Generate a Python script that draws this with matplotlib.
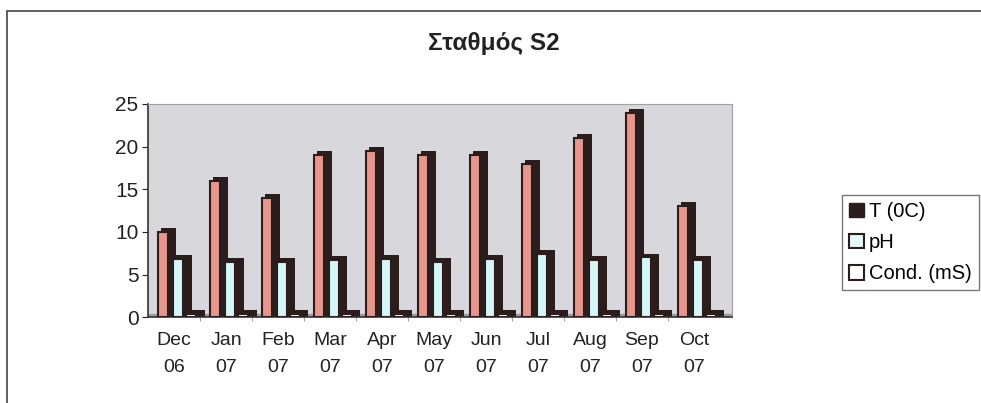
import matplotlib.pyplot as plt
from matplotlib.patches import Rectangle, Patch
import numpy as np

plt.rcParams['font.family'] = ['Liberation Sans', 'DejaVu Sans']

months = ['Dec\n06', 'Jan\n07', 'Feb\n07', 'Mar\n07', 'Apr\n07', 'May\n07',
          'Jun\n07', 'Jul\n07', 'Aug\n07', 'Sep\n07', 'Oct\n07']
temp = [10, 16, 14, 19, 19.5, 19, 19, 18, 21, 24, 13]
ph = [6.8, 6.5, 6.5, 6.7, 6.8, 6.5, 6.8, 7.4, 6.7, 7.0, 6.7]
cond = [0.4, 0.4, 0.4, 0.4, 0.4, 0.4, 0.4, 0.4, 0.4, 0.4, 0.4]

series = [('T (0C)', temp, '#e6968c'),
          ('pH', ph, '#d4f6f6'),
          ('Cond. (mS)', cond, '#ffffff')]

dark = '#2b1d1c'
fig = plt.figure(figsize=(9.81, 4.03), dpi=100)
ax = fig.add_axes([0.151, 0.213, 0.595, 0.529])
ax.set_facecolor('#d8d8dc')

x = np.arange(len(months))
w = 0.19
depth_x = 0.11
depth_y = 0.45
offsets = [-0.31, -0.02, 0.23]

# floor
ax.axhspan(0, 0.35, color='#9c9ca2', zorder=1)

for (name, vals, col), off in zip(series, offsets):
    left = x + off
    # dark side/top of the 3D block
    ax.bar(left + depth_x / 2, np.array(vals) + depth_y, width=w + depth_x,
           align='edge', color=dark, zorder=2)
    ax.bar(left, vals, width=w, align='edge', color=col,
           edgecolor=dark, linewidth=1.5, zorder=3)

ax.set_xlim(-0.5, 10.73)
ax.set_ylim(0, 25)
ax.set_yticks([0, 5, 10, 15, 20, 25])
ax.set_xticks(x)
ax.set_xticklabels(months, linespacing=1.75)
ax.set_xticks(np.arange(0.5, 10.5, 1), minor=True)
ax.tick_params(axis='x', which='major', length=0, pad=11, labelsize=14, colors='#222222')
ax.tick_params(axis='x', which='minor', length=3, color='#888888')
ax.tick_params(axis='y', length=4, pad=3, labelsize=15, colors='#222222')
for s in ['left', 'bottom']:
    ax.spines[s].set_color('#333333')
    ax.spines[s].set_linewidth(1.2)
for s in ['top', 'right']:
    ax.spines[s].set_color('#a0a0a0')
    ax.spines[s].set_linewidth(0.8)

fig.text(0.503, 0.892, 'Σταθμός S2', ha='center', va='center',
         fontsize=17.5, fontweight='bold', color='#222222')

handles = [Patch(facecolor=dark, edgecolor=dark, label='T (0C)'),
           Patch(facecolor='#e6fafa', edgecolor=dark, linewidth=1.5, label='pH'),
           Patch(facecolor='white', edgecolor=dark, linewidth=1.5, label='Cond. (mS)')]
leg = fig.legend(handles=handles, loc='center left', bbox_to_anchor=(0.858, 0.398),
                 fontsize=14.5, frameon=True, fancybox=False, edgecolor='#555555',
                 handlelength=0.75, handleheight=0.75, handletextpad=0.25,
                 borderpad=0.35, labelspacing=0.6, borderaxespad=0)
leg.get_frame().set_linewidth(1.0)

# outer chart frame
fig.add_artist(Rectangle((0.007, -0.01), 1.2, 0.983, transform=fig.transFigure,
                         fill=False, edgecolor='#444444', linewidth=1.2))

fig.savefig('out.png', dpi=100)
